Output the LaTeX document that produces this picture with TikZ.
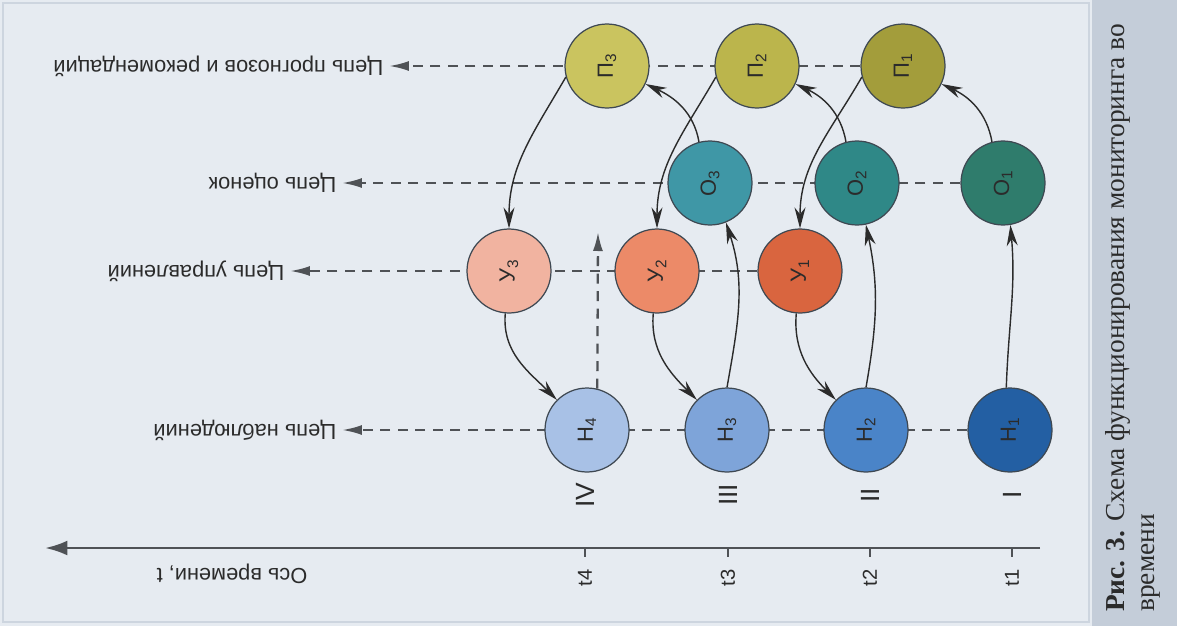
\documentclass[tikz,border=0pt]{standalone}
\usepackage{fontspec}
\setmainfont{Liberation Sans}
\newfontfamily\capfont{Liberation Serif}
\usetikzlibrary{arrows.meta, backgrounds}
\definecolor{PageBg}{HTML}{E6EBF1}
\definecolor{SideBg}{HTML}{C4CDD9}
\definecolor{FrameLine}{HTML}{CDD5DF}
\definecolor{Ink}{HTML}{2B2B2B}
\definecolor{Rim}{HTML}{3E4852}
\definecolor{DashGrey}{HTML}{4F5256}
\definecolor{PrOne}{HTML}{A39D3B}
\definecolor{PrTwo}{HTML}{BBB54C}
\definecolor{PrThree}{HTML}{CAC45F}
\definecolor{EvOne}{HTML}{2F7C6C}
\definecolor{EvTwo}{HTML}{2F8887}
\definecolor{EvThree}{HTML}{3F97A6}
\definecolor{CtOne}{HTML}{D9653F}
\definecolor{CtTwo}{HTML}{EC8A68}
\definecolor{CtThree}{HTML}{F1B3A0}
\definecolor{ObOne}{HTML}{235FA3}
\definecolor{ObTwo}{HTML}{4A84C8}
\definecolor{ObThree}{HTML}{7EA4D9}
\definecolor{ObFour}{HTML}{A8C1E6}
\newcommand{\turnlbl}[2]{\rotatebox{90}{#1\textsubscript{#2}}}

\begin{document}
\begin{tikzpicture}[x=0.02cm, y=0.02cm,
  ball/.style={circle, draw=Rim, line width=0.7pt, minimum size=1.68cm, inner sep=0pt,
               text=Ink, font=\fontsize{12.5pt}{13pt}\selectfont},
  chain/.style={rotate=180, anchor=west, inner sep=3pt, text=Ink,
                font=\fontsize{12.4pt}{14pt}\selectfont},
  chainline/.style={dash pattern=on 0.2cm off 0.15cm, line width=1.3pt, draw=DashGrey,
                    -{Latex[length=0.4cm, width=0.2cm]}},
  arr/.style={-{Stealth[length=0.42cm, width=0.22cm]}, line width=0.8pt, draw=Ink},
  stage/.style={rotate=90, text=Ink, font=\fontsize{15pt}{15pt}\selectfont},
  tlbl/.style={rotate=90, text=Ink, font=\fontsize{11.5pt}{12pt}\selectfont},
  timeaxis/.style={line width=1.6pt, draw=DashGrey},
]
  \begin{scope}[on background layer]
    \fill[PageBg] (0,0) rectangle (1092,-626);
    \fill[SideBg] (1092,0) rectangle (1177,-626);
    \draw[FrameLine, line width=1.5pt] (3,-3) rectangle (1089,-622);
  \end{scope}

  \node[ball, fill=PrThree] (p3) at (607,-66)  {\turnlbl{П}{3}};
  \node[ball, fill=PrTwo]   (p2) at (757,-66)  {\turnlbl{П}{2}};
  \node[ball, fill=PrOne]   (p1) at (903,-66)  {\turnlbl{П}{1}};
  \node[ball, fill=EvThree] (o3) at (710,-183) {\turnlbl{О}{3}};
  \node[ball, fill=EvTwo]   (o2) at (857,-183) {\turnlbl{О}{2}};
  \node[ball, fill=EvOne]   (o1) at (1003,-183) {\turnlbl{О}{1}};
  \node[ball, fill=CtThree] (u3) at (509,-271) {\turnlbl{У}{3}};
  \node[ball, fill=CtTwo]   (u2) at (657,-271) {\turnlbl{У}{2}};
  \node[ball, fill=CtOne]   (u1) at (800,-271) {\turnlbl{У}{1}};
  \node[ball, fill=ObFour]  (h4) at (587,-430) {\turnlbl{Н}{4}};
  \node[ball, fill=ObThree] (h3) at (727,-430) {\turnlbl{Н}{3}};
  \node[ball, fill=ObTwo]   (h2) at (866,-430) {\turnlbl{Н}{2}};
  \node[ball, fill=ObOne]   (h1) at (1010,-430) {\turnlbl{Н}{1}};

  \node[chain] (lp) at (389,-66)  {Цепь прогнозов и рекомендаций};
  \node[chain] (lo) at (342,-183) {Цепь оценок};
  \node[chain] (lu) at (290,-271) {Цепь управлений};
  \node[chain] (lh) at (342,-430) {Цепь наблюдений};

  \begin{scope}[on background layer]
    \draw[chainline] (p1) -- (lp.west);
    \draw[chainline] (o1) -- (lo.west);
    \draw[chainline] (u1) -- (lu.west);
    \draw[chainline] (h1) -- (lh.west);
  \end{scope}

  \draw[arr] (h1.95) to[out=88, in=-85] (o1.-80);
  \draw[arr] (h2.north) to[out=80, in=-78] (o2.-78);
  \draw[arr] (h3.north) to[out=80, in=-72] (o3.-68);
  \draw[arr] (o1.105) to[out=100, in=-25] (p1.-25);
  \draw[arr] (o2.105) to[out=100, in=-25] (p2.-25);
  \draw[arr] (o3.105) to[out=100, in=-25] (p3.-25);
  \draw[arr] (p1.195) to[out=240, in=90] (u1.north);
  \draw[arr] (p2.195) to[out=240, in=90] (u2.north);
  \draw[arr] (p3.195) to[out=240, in=90] (u3.north);
  \draw[arr] (u1.265) to[out=265, in=135] (h2.135);
  \draw[arr] (u2.265) to[out=265, in=135] (h3.135);
  \draw[arr] (u3.265) to[out=265, in=135] (h4.135);

  \coordinate (o4) at (598,-232);
  \draw[chainline, -{Latex[length=0.38cm, width=0.2cm]}] (h4.76) -- (o4);

  \node[stage] (s4) at (585,-495)  {IV};
  \node[stage] (s3) at (728,-495)  {III};
  \node[stage] (s2) at (870,-495)  {II};
  \node[stage] (s1) at (1012,-495) {I};

  \coordinate (ax0) at (1040,-548);
  \coordinate (ax1) at (45,-548);
  \draw[timeaxis, -{Latex[length=0.45cm, width=0.3cm]}] (ax0) -- (ax1);
  \foreach \x in {585,728,870,1012}
    \draw[timeaxis, line width=1pt] (\x,-548) -- (\x,-557);
  \node[tlbl] (t4) at (585,-578)  {t4};
  \node[tlbl] (t3) at (728,-578)  {t3};
  \node[tlbl] (t2) at (870,-578)  {t2};
  \node[tlbl] (t1) at (1012,-578) {t1};
  \node[chain, anchor=center] (axl) at (232,-574) {Ось времени, t};

  \node[rotate=90, align=left, text=Ink, inner sep=0pt,
        font=\capfont\fontsize{15.6pt}{17pt}\selectfont] (cap) at (1133,-318)
    {\textbf{Рис. 3.} Схема функционирования мониторинга во\\времени};
\end{tikzpicture}
\end{document}
